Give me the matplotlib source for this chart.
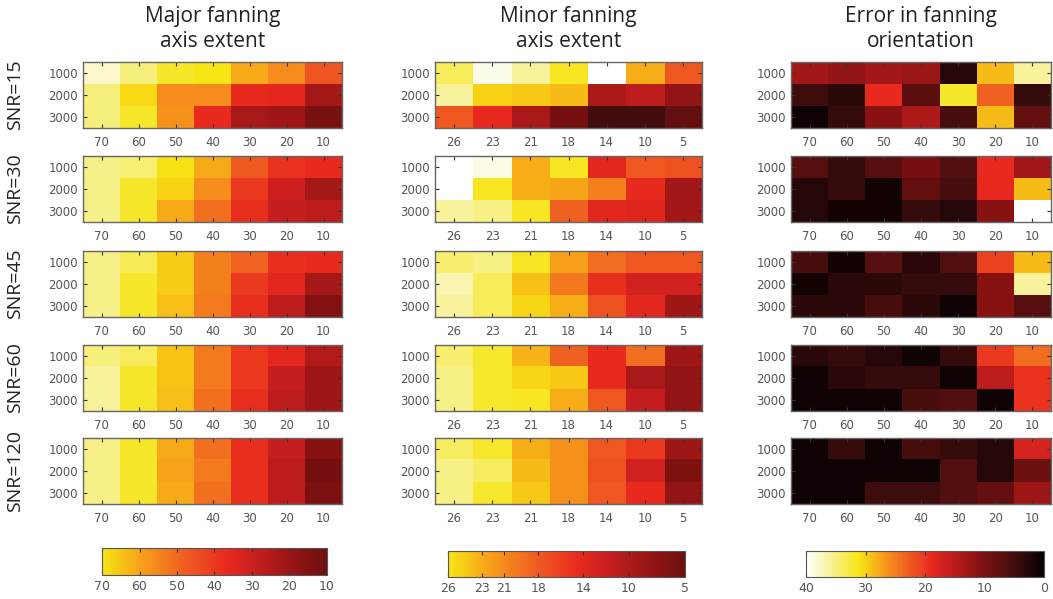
import numpy as np
import matplotlib
matplotlib.use('Agg')
import matplotlib.pyplot as plt
from matplotlib.colors import LinearSegmentedColormap, Normalize

# 数据
snr_labels = ['SNR=15', 'SNR=30', 'SNR=45', 'SNR=60', 'SNR=120']
row_labels = ['1000', '2000', '3000']
major_ticks = ['70', '60', '50', '40', '30', '20', '10']
minor_ticks = ['26', '23', '21', '18', '14', '10', '5']
error_ticks = ['70', '60', '50', '40', '30', '20', '10']

major_snr15 = [[88, 80, 72, 70, 61, 56, 46], [80, 68, 56, 56, 37, 36, 22], [80, 72, 57, 37, 23, 21, 13]]
major_snr30 = [[81, 79, 69, 61, 47, 39, 37], [81, 72, 67, 56, 40, 31, 22], [81, 72, 61, 51, 38, 29, 27]]
major_snr45 = [[81, 76, 66, 54, 49, 38, 37], [81, 72, 66, 54, 40, 35, 22], [81, 72, 64, 53, 38, 27, 15]]
major_snr60 = [[80, 77, 65, 53, 40, 36, 25], [83, 72, 65, 53, 40, 29, 21], [83, 72, 64, 51, 38, 27, 21]]
major_snr120 = [[81, 72, 61, 51, 38, 29, 16], [81, 72, 60, 53, 38, 27, 12], [81, 72, 61, 51, 38, 27, 14]]

minor_snr15 = [[28.3, 33.5, 30.5, 26.4, 34.3, 23.0, 17.8], [30.5, 24.9, 24.5, 23.8, 9.9, 11.0, 8.0], [17.8, 14.4, 9.5, 5.8, 1.6, 1.6, 4.3]]
minor_snr30 = [[34.3, 33.1, 23.0, 26.4, 14.0, 17.8, 17.4], [34.3, 26.4, 23.0, 22.6, 20.4, 14.4, 9.1], [30.5, 29.8, 26.4, 18.5, 14.0, 13.6, 9.1]]
minor_snr45 = [[29.0, 29.8, 26.4, 22.3, 19.3, 17.8, 17.8], [31.3, 28.3, 24.1, 20.0, 14.8, 12.5, 12.5], [30.5, 28.3, 25.3, 23.0, 17.4, 14.0, 8.8]]
minor_snr60 = [[29.0, 26.8, 23.4, 18.5, 14.4, 19.3, 8.8], [29.8, 26.8, 25.3, 24.5, 14.4, 9.5, 8.0], [29.8, 26.8, 26.4, 23.0, 17.8, 11.8, 8.0]]
minor_snr120 = [[28.6, 26.8, 23.0, 21.5, 17.8, 15.5, 8.8], [29.8, 28.6, 23.8, 21.5, 17.4, 12.5, 6.5], [29.8, 26.8, 24.5, 21.5, 17.8, 14.4, 8.0]]

error_snr15 = [[13.2, 12, 13.2, 12.8, 2.8, 28.8, 36], [4.8, 3.2, 18.8, 7.2, 32, 23.2, 4], [0.8, 4, 11.2, 14, 5.6, 28.8, 8]]
error_snr30 = [[6.8, 4, 6.8, 9.6, 6.4, 18.8, 13.2], [2.8, 4, 1.2, 8, 5.6, 18.8, 28.8], [2.8, 1.2, 1.2, 4, 2.8, 11.2, 40]]
error_snr45 = [[5.6, 1.2, 6.8, 3.2, 6.4, 20.8, 28.8], [1.2, 3.2, 3.2, 4, 4, 11.2, 36], [3.2, 3.2, 5.6, 3.2, 0.8, 11.2, 6.8]]
error_snr60 = [[3.2, 4, 2.8, 0.8, 4, 20, 24], [0.8, 3.2, 4, 4, 0.8, 15.2, 19.6], [0.8, 0.8, 0.8, 5.6, 6.4, 0.8, 19.6]]
error_snr120 = [[0.8, 4, 0.8, 5.6, 4, 2.8, 17.2], [0.8, 0.8, 0.8, 0.8, 6.4, 2.8, 8.8], [0.8, 0.8, 4.8, 4.8, 6.4, 8, 12.8]]

major_data = [major_snr15, major_snr30, major_snr45, major_snr60, major_snr120]
minor_data = [minor_snr15, minor_snr30, minor_snr45, minor_snr60, minor_snr120]
error_data = [error_snr15, error_snr30, error_snr45, error_snr60, error_snr120]

major_cbar_ticks = [70, 60, 50, 40, 30, 20, 10]
minor_cbar_ticks = [26, 23, 21, 18, 14, 10, 5]
error_cbar_ticks = [40, 30, 20, 10, 0]

# 白-黄-红-黑 色图
cmap = LinearSegmentedColormap.from_list('fan', [
    (0.0, (0.02, 0.0, 0.0)),
    (0.12, (0.25, 0.05, 0.05)),
    (0.27, (0.52, 0.07, 0.07)),
    (0.40, (0.78, 0.12, 0.12)),
    (0.47, (0.91, 0.16, 0.12)),
    (0.58, (0.94, 0.38, 0.13)),
    (0.68, (0.97, 0.62, 0.10)),
    (0.78, (0.97, 0.90, 0.08)),
    (0.90, (0.97, 0.95, 0.60)),
    (1.0, (1.0, 1.0, 1.0)),
])

W, H = 1053, 599
fig = plt.figure(figsize=(W / 100, H / 100), dpi=100)

grey = '#555555'
title_font = 'Open Sans'

columns = [
    # (数据, 刻度, 左, 宽, vmin, vmax, 标题, 色条位置, 色条范围, 色条刻度)
    (major_data, major_ticks, 83, 259, -13.6, 93.5, 'Major fanning\naxis extent',
     (102, 548, 225, 27), (10, 70), major_cbar_ticks),
    (minor_data, minor_ticks, 435, 267, -3.25, 34.25, 'Minor fanning\naxis extent',
     (448, 551, 237, 26), (5, 26), minor_cbar_ticks),
    (error_data, error_ticks, 791, 260, 0, 40, 'Error in fanning\norientation',
     (806, 551, 238, 26), (0, 40), error_cbar_ticks),
]
row_tops = [62, 156, 251, 345, 438]
panel_h = 66


def style_ticks(ax):
    ax.tick_params(direction='in', length=3, width=0.8, colors='#333333',
                   labelcolor=grey, labelsize=8.5, top=True, right=True)
    for s in ax.spines.values():
        s.set_color('#666666')
        s.set_linewidth(1.0)


for data, xt, left, width, vmin, vmax, title, cpos, crange, cticks in columns:
    norm = Normalize(vmin=vmin, vmax=vmax)
    im = None
    for i, top in enumerate(row_tops):
        ax = fig.add_axes([left / W, (H - top - panel_h) / H, width / W, panel_h / H])
        im = ax.imshow(np.array(data[i]), cmap=cmap, norm=norm, aspect='auto',
                       interpolation='nearest')
        ax.set_xticks(range(7))
        ax.set_xticklabels(xt)
        ax.set_yticks(range(3))
        ax.set_yticklabels(row_labels)
        style_ticks(ax)
        ax.tick_params(axis='x', pad=6)
    fig.text((left + width / 2) / W, 1 - 6 / H, title, ha='center', va='top',
             fontsize=15, family=title_font, color='#222222', linespacing=1.25)

    cx, cy, cw, ch = cpos
    cax = fig.add_axes([cx / W, (H - cy - ch) / H, cw / W, ch / H])
    cb = fig.colorbar(im, cax=cax, orientation='horizontal',
                      boundaries=np.linspace(crange[0], crange[1], 256), ticks=cticks)
    cb.outline.set_edgecolor('#555555')
    cax.invert_xaxis()
    cax.tick_params(direction='in', length=3, colors='#333333', labelcolor=grey,
                    labelsize=9, top=True)

for i, top in enumerate(row_tops):
    fig.text(15 / W, 1 - (top + panel_h / 2) / H, snr_labels[i], rotation=90,
             ha='center', va='center', fontsize=14, family=title_font, color='#222222')

plt.savefig('out.png', dpi=100)
plt.close()
